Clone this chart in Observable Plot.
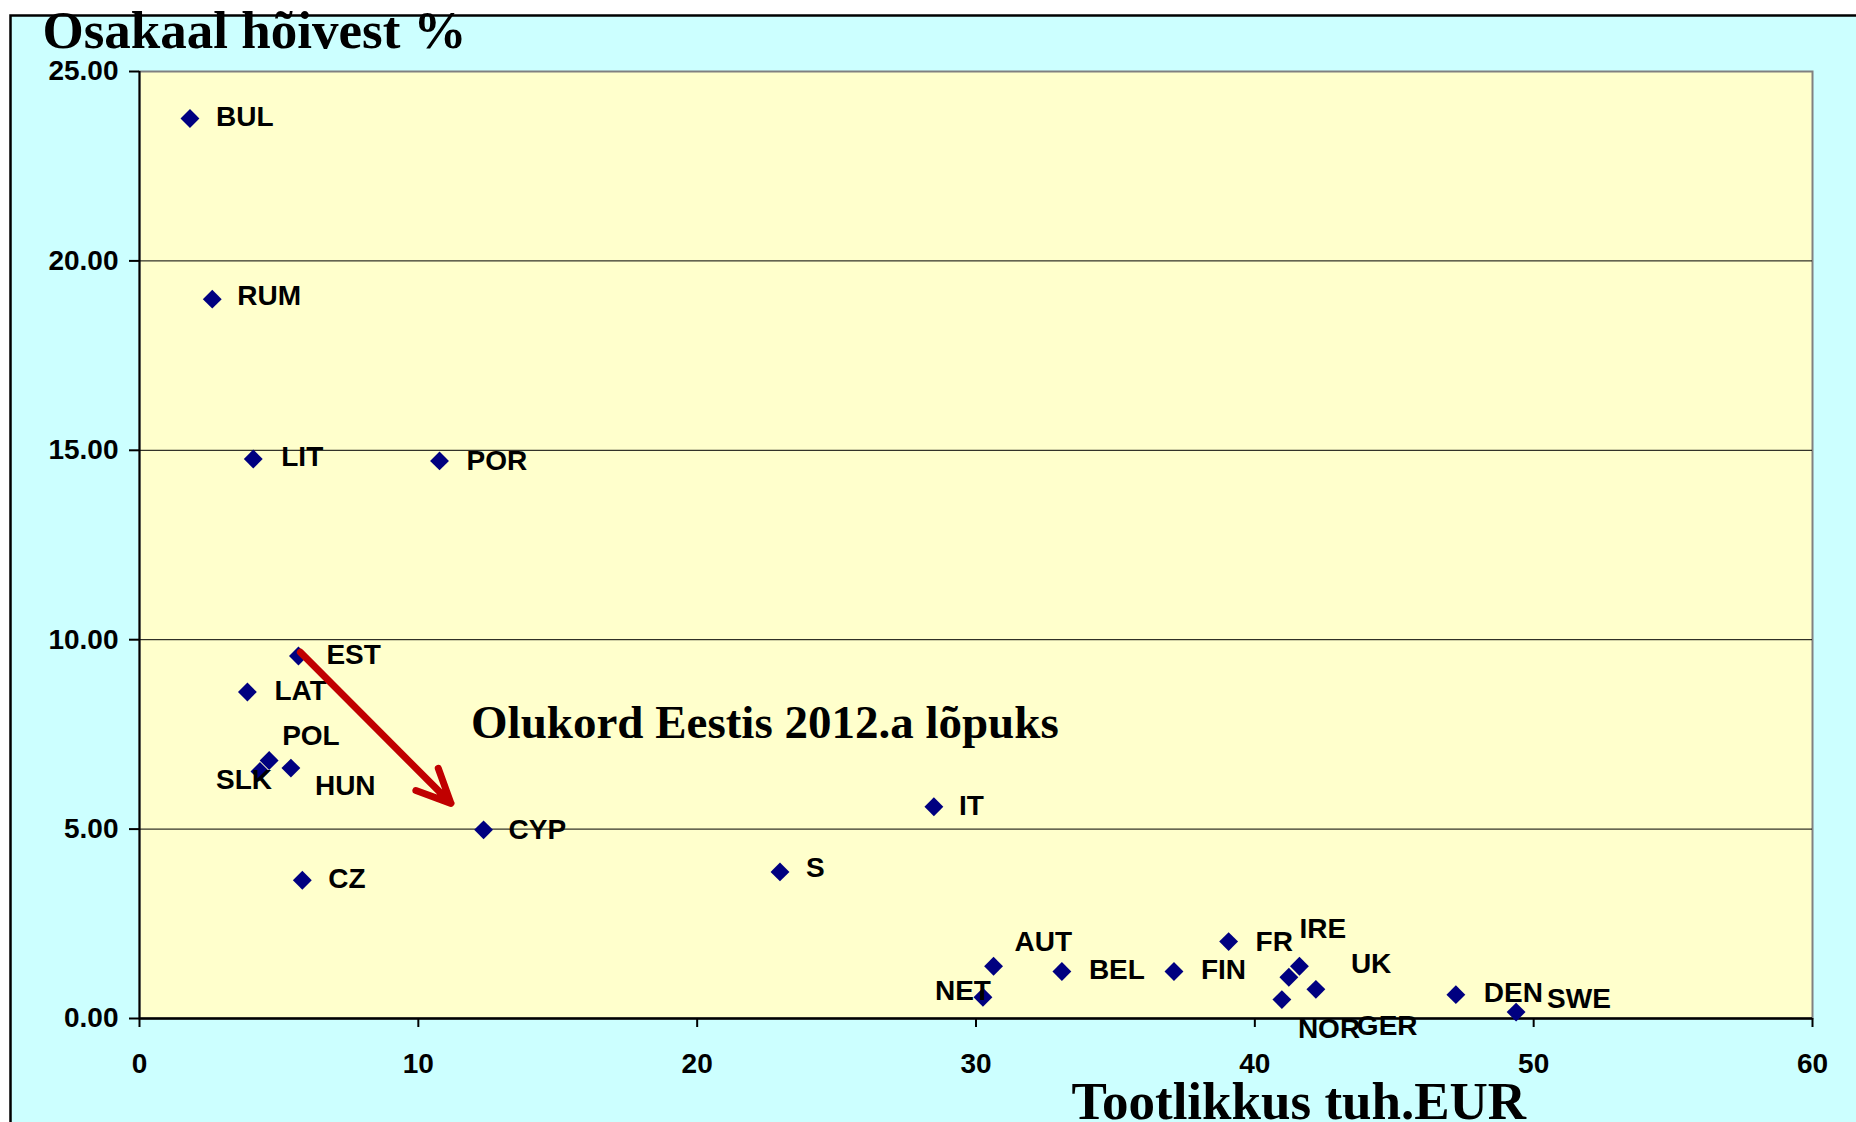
<!DOCTYPE html>
<html>
<head>
<meta charset="utf-8">
<script src="https://cdn.jsdelivr.net/npm/d3@7"></script>
<script src="https://cdn.jsdelivr.net/npm/@observablehq/plot@0.6"></script>
<style>
  html, body { margin: 0; padding: 0; background: #fff; }
  #chart svg { display: block; }
</style>
</head>
<body>
<div id="chart"></div>
<script>
// ---- Data ----
const countries = ["BUL","RUM","LIT","POR","EST","LAT","POL","SLK","HUN","CYP","CZ","S","IT","NET","AUT","BEL","FIN","FR","IRE","GER","UK","NOR","DEN","SWE"];
const productivity = [1.81, 2.61, 4.08, 10.76, 5.70, 3.87, 4.65, 4.32, 5.43, 12.34, 5.84, 22.97, 28.49, 30.25, 30.63, 33.08, 37.10, 39.06, 41.60, 41.22, 42.19, 40.97, 47.21, 49.37];
const employmentShare = [23.76, 18.99, 14.77, 14.72, 9.57, 8.62, 6.81, 6.52, 6.61, 4.98, 3.65, 3.87, 5.59, 0.56, 1.38, 1.24, 1.24, 2.03, 1.38, 1.09, 0.77, 0.50, 0.63, 0.17];
const xTicks = [0, 10, 20, 30, 40, 50, 60];
const yTicks = [0, 5, 10, 15, 20, 25];
const gridValues = [5, 10, 15, 20];
const yTitle = "Osakaal hõivest %";
const xTitle = "Tootlikkus tuh.EUR";
const noteText = ["Olukord Eestis 2012.a lõpuks"];
const noteX = [11.89];
const noteY = [7.41];
const arrowFromX = [5.77], arrowFromY = [9.67];
const arrowToX = [11.17], arrowToY = [5.68];

// ---- Layout (label offsets in px from each point) ----
const labelOffset = {
  BUL:[26,-1], RUM:[25,-3], LIT:[28,-2], POR:[27,0], EST:[28,-1], LAT:[27,-1],
  POL:[13,-25], SLK:[-44,9], HUN:[24,18], CYP:[25,0], CZ:[26,-1], S:[26,-4],
  IT:[25,-1], NET:[-48,-6], AUT:[21,-24], BEL:[27,-1], FIN:[27,-1], FR:[27,0],
  IRE:[0,-37], GER:[68,49], UK:[35,-25], NOR:[16,29], DEN:[28,-2], SWE:[31,-13]
};

const points = countries.map((c, i) => ({name: c, x: productivity[i], y: employmentShare[i]}));
const note = noteText.map((t, i) => ({t, x: noteX[i], y: noteY[i]}));
const arrows = arrowFromX.map((_, i) => ({x1: arrowFromX[i], y1: arrowFromY[i], x2: arrowToX[i], y2: arrowToY[i]}));

const sans = "'Liberation Sans', Arial, sans-serif";
const serif = "'Liberation Serif', 'Times New Roman', serif";

const labelMarks = points.map(p => Plot.text([p], {
  x: "x", y: "y", text: "name",
  textAnchor: "start",
  dx: labelOffset[p.name][0], dy: labelOffset[p.name][1],
  fontFamily: sans, fontSize: 28, fontWeight: "bold", fill: "#000"
}));

const chart = Plot.plot({
  width: 1856,
  height: 1122,
  marginLeft: 139,
  marginRight: 44,
  marginTop: 71,
  marginBottom: 104,
  style: {fontFamily: sans, fontWeight: "bold", fontSize: "28px", color: "#000", background: "#fff", overflow: "visible"},
  x: {domain: [0, 60], ticks: xTicks},
  y: {domain: [0, 25], ticks: yTicks},
  marks: [
    Plot.frame({fill: "#CCFFFF", stroke: "#000", strokeWidth: 2.5, insetLeft: -129, insetTop: -56, insetRight: -80, insetBottom: -130}),
    Plot.frame({fill: "#FFFFCC", stroke: "#808080", strokeWidth: 2}),
    Plot.ruleY(gridValues, {stroke: "#000", strokeWidth: 1}),
    Plot.ruleX([0], {stroke: "#000", strokeWidth: 2}),
    Plot.ruleY([0], {stroke: "#000", strokeWidth: 2.5}),
    Plot.axisY({ticks: yTicks, tickFormat: d => d.toFixed(2), tickSize: 10, tickPadding: 11, stroke: "#000", strokeWidth: 2, label: null, fontSize: 28, fontWeight: "bold", fontFamily: sans}),
    Plot.axisX({ticks: xTicks, tickFormat: d => String(d), tickSize: 9, tickPadding: 26, stroke: "#000", strokeWidth: 2, label: null, fontSize: 28, fontWeight: "bold", fontFamily: sans}),
    Plot.dot(points, {x: "x", y: "y", symbol: "diamond2", r: 8.5, fill: "#000080", stroke: "none"}),
    ...labelMarks,
    Plot.arrow(arrows, {x1: "x1", y1: "y1", x2: "x2", y2: "y2", stroke: "#C00000", strokeWidth: 7, headAngle: 50, headLength: 8}),
    Plot.text(note, {x: "x", y: "y", text: "t", textAnchor: "start", lineAnchor: "bottom", fontFamily: serif, fontSize: 47, fontWeight: "bold", fill: "#000"}),
    Plot.text([yTitle], {frameAnchor: "top-left", textAnchor: "start", lineAnchor: "bottom", dx: -97, dy: -24, fontFamily: serif, fontSize: 53, fontWeight: "bold", fill: "#000"}),
    Plot.text([xTitle], {frameAnchor: "bottom-left", textAnchor: "start", lineAnchor: "bottom", dx: 932, dy: 100, fontFamily: serif, fontSize: 53, fontWeight: "bold", fill: "#000"})
  ]
});
document.getElementById("chart").appendChild(chart);
</script>
</body>
</html>
